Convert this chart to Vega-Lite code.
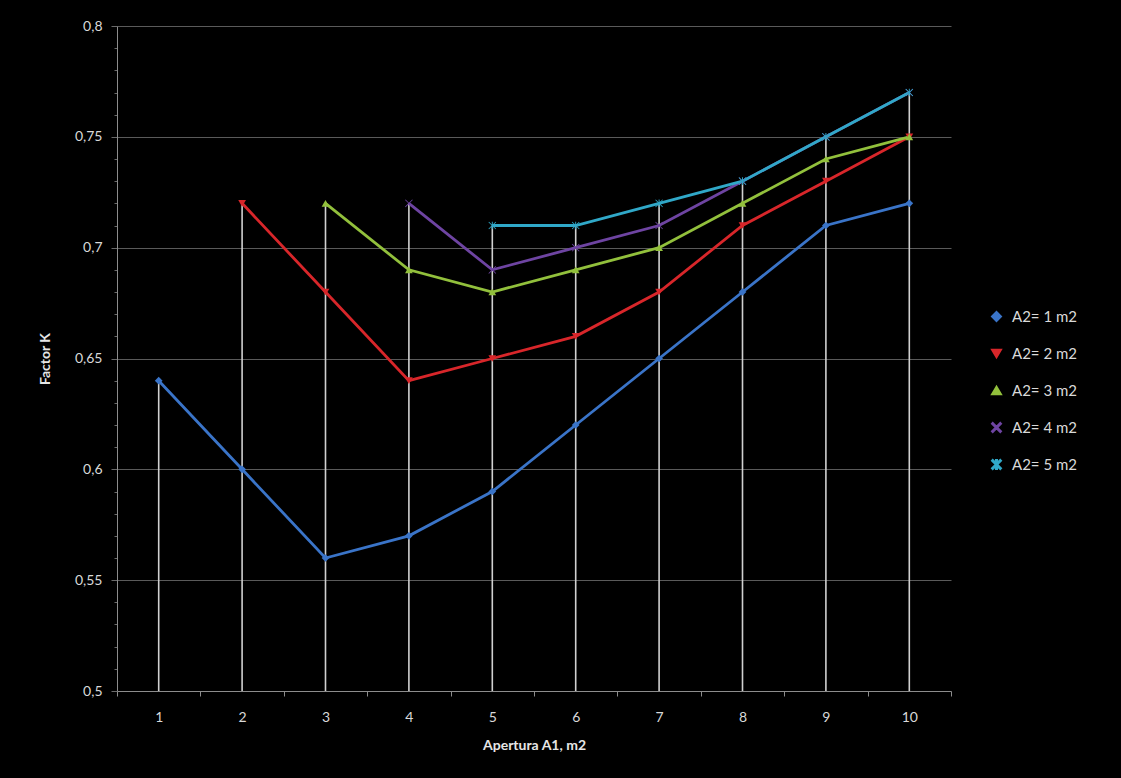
{
  "$schema": "https://vega.github.io/schema/vega-lite/v6.json",
  "width": 834,
  "height": 665,
  "autosize": {"type": "none"},
  "padding": {"left": 117, "top": 26, "right": 170, "bottom": 87},
  "background": "#000000",
  "config": {
    "view": {"stroke": null},
    "font": "Lato",
    "axis": {"labelFont": "Lato", "titleFont": "Lato"},
    "legend": {"labelFont": "Lato"}
  },
  "data": {
    "values": [
      {"x": 1, "s": "A2= 1 m2", "k": 0.64},
      {"x": 2, "s": "A2= 1 m2", "k": 0.60},
      {"x": 3, "s": "A2= 1 m2", "k": 0.56},
      {"x": 4, "s": "A2= 1 m2", "k": 0.57},
      {"x": 5, "s": "A2= 1 m2", "k": 0.59},
      {"x": 6, "s": "A2= 1 m2", "k": 0.62},
      {"x": 7, "s": "A2= 1 m2", "k": 0.65},
      {"x": 8, "s": "A2= 1 m2", "k": 0.68},
      {"x": 9, "s": "A2= 1 m2", "k": 0.71},
      {"x": 10, "s": "A2= 1 m2", "k": 0.72},
      {"x": 2, "s": "A2= 2 m2", "k": 0.72},
      {"x": 3, "s": "A2= 2 m2", "k": 0.68},
      {"x": 4, "s": "A2= 2 m2", "k": 0.64},
      {"x": 5, "s": "A2= 2 m2", "k": 0.65},
      {"x": 6, "s": "A2= 2 m2", "k": 0.66},
      {"x": 7, "s": "A2= 2 m2", "k": 0.68},
      {"x": 8, "s": "A2= 2 m2", "k": 0.71},
      {"x": 9, "s": "A2= 2 m2", "k": 0.73},
      {"x": 10, "s": "A2= 2 m2", "k": 0.75},
      {"x": 3, "s": "A2= 3 m2", "k": 0.72},
      {"x": 4, "s": "A2= 3 m2", "k": 0.69},
      {"x": 5, "s": "A2= 3 m2", "k": 0.68},
      {"x": 6, "s": "A2= 3 m2", "k": 0.69},
      {"x": 7, "s": "A2= 3 m2", "k": 0.70},
      {"x": 8, "s": "A2= 3 m2", "k": 0.72},
      {"x": 9, "s": "A2= 3 m2", "k": 0.74},
      {"x": 10, "s": "A2= 3 m2", "k": 0.75},
      {"x": 4, "s": "A2= 4 m2", "k": 0.72},
      {"x": 5, "s": "A2= 4 m2", "k": 0.69},
      {"x": 6, "s": "A2= 4 m2", "k": 0.70},
      {"x": 7, "s": "A2= 4 m2", "k": 0.71},
      {"x": 8, "s": "A2= 4 m2", "k": 0.73},
      {"x": 9, "s": "A2= 4 m2", "k": 0.75},
      {"x": 10, "s": "A2= 4 m2", "k": 0.77},
      {"x": 5, "s": "A2= 5 m2", "k": 0.71},
      {"x": 6, "s": "A2= 5 m2", "k": 0.71},
      {"x": 7, "s": "A2= 5 m2", "k": 0.72},
      {"x": 8, "s": "A2= 5 m2", "k": 0.73},
      {"x": 9, "s": "A2= 5 m2", "k": 0.75},
      {"x": 10, "s": "A2= 5 m2", "k": 0.77}
    ]
  },
  "encoding": {
    "x": {
      "field": "x",
      "type": "ordinal",
      "bandPosition": 0.5,
      "scale": {"type": "band", "paddingInner": 0, "paddingOuter": 0},
      "axis": {
        "title": "Apertura A1, m2",
        "labelAngle": 0,
        "tickBand": "extent",
        "grid": false,
        "domainColor": "#8c8c8c",
        "tickColor": "#8c8c8c",
        "tickSize": 5,
        "labelPadding": 14,
        "labelFontSize": 14,
        "labelColor": "#d9d9d9",
        "titleFontSize": 14,
        "titleFontWeight": "bold",
        "titleColor": "#e6e6e6",
        "titlePadding": 14
      }
    }
  },
  "layer": [
    {
      "mark": {"type": "rule", "color": "#d0d0d0", "strokeWidth": 1.6},
      "encoding": {
        "y": {
          "aggregate": "max",
          "field": "k",
          "type": "quantitative",
          "scale": {"domain": [0.5, 0.8], "nice": false, "zero": false},
          "axis": {
            "title": "Factor K",
            "tickCount": 60,
            "values": [0.5, 0.51, 0.52, 0.53, 0.54, 0.55, 0.56, 0.57, 0.58, 0.59, 0.6, 0.61, 0.62, 0.63, 0.64, 0.65, 0.66, 0.67, 0.68, 0.69, 0.7, 0.71, 0.72, 0.73, 0.74, 0.75, 0.76, 0.77, 0.78, 0.79, 0.8],
            "labelExpr": "abs(datum.value*20 - round(datum.value*20)) < 0.001 ? replace(format(datum.value, '~g'), '.', ',') : ''",
            "labelOverlap": false,
            "labelBound": false,
            "grid": true,
            "gridColor": {"condition": {"test": "abs(datum.value*20 - round(datum.value*20)) < 0.001 && datum.value > 0.501", "value": "#5a5a5a"}, "value": "rgba(0,0,0,0)"},
            "gridWidth": 1,
            "tickSize": {"condition": {"test": "abs(datum.value*20 - round(datum.value*20)) < 0.001", "value": 6}, "value": 3},
            "tickColor": "#6a6a6a",
            "domainColor": "#8c8c8c",
            "labelPadding": 9,
            "labelFontSize": 14,
            "labelColor": "#d9d9d9",
            "titleFontSize": 14,
            "titleFontWeight": "bold",
            "titleColor": "#e6e6e6",
            "titlePadding": 22
          }
        },
        "y2": {"datum": 0.5}
      }
    },
    {
      "mark": {"type": "line", "strokeWidth": 2.8, "point": {"filled": true, "size": 60, "opacity": 1}},
      "encoding": {
        "y": {
          "field": "k",
          "type": "quantitative",
          "axis": {
            "title": "Factor K",
            "tickCount": 60,
            "values": [0.5, 0.51, 0.52, 0.53, 0.54, 0.55, 0.56, 0.57, 0.58, 0.59, 0.6, 0.61, 0.62, 0.63, 0.64, 0.65, 0.66, 0.67, 0.68, 0.69, 0.7, 0.71, 0.72, 0.73, 0.74, 0.75, 0.76, 0.77, 0.78, 0.79, 0.8],
            "labelExpr": "abs(datum.value*20 - round(datum.value*20)) < 0.001 ? replace(format(datum.value, '~g'), '.', ',') : ''",
            "labelOverlap": false,
            "labelBound": false,
            "grid": true,
            "gridColor": {"condition": {"test": "abs(datum.value*20 - round(datum.value*20)) < 0.001 && datum.value > 0.501", "value": "#5a5a5a"}, "value": "rgba(0,0,0,0)"},
            "gridWidth": 1,
            "tickSize": {"condition": {"test": "abs(datum.value*20 - round(datum.value*20)) < 0.001", "value": 6}, "value": 3},
            "tickColor": "#6a6a6a",
            "domainColor": "#8c8c8c",
            "labelPadding": 9,
            "labelFontSize": 14,
            "labelColor": "#d9d9d9",
            "titleFontSize": 14,
            "titleFontWeight": "bold",
            "titleColor": "#e6e6e6",
            "titlePadding": 22
          }
        },
        "color": {
          "field": "s",
          "type": "nominal",
          "scale": {
            "domain": ["A2= 1 m2", "A2= 2 m2", "A2= 3 m2", "A2= 4 m2", "A2= 5 m2"],
            "range": ["#3a74c8", "#d8262a", "#92c03c", "#6e44a2", "#30a8c8"]
          },
          "legend": {
            "title": null,
            "orient": "none",
            "legendX": 872,
            "legendY": 283,
            "labelFontSize": 15,
            "labelColor": "#d9d9d9",
            "rowPadding": 20,
            "symbolSize": 80,
            "symbolStrokeWidth": 2,
            "labelOffset": 8
          }
        },
        "shape": {
          "field": "s",
          "type": "nominal",
          "scale": {
            "domain": ["A2= 1 m2", "A2= 2 m2", "A2= 3 m2", "A2= 4 m2", "A2= 5 m2"],
            "range": [
              "diamond",
              "triangle-down",
              "triangle-up",
              "M-1,-0.85L-0.85,-1L0,-0.15L0.85,-1L1,-0.85L0.15,0L1,0.85L0.85,1L0,0.15L-0.85,1L-1,0.85L-0.15,0Z",
              "M-1,-0.85L-0.85,-1L0,-0.15L0.85,-1L1,-0.85L0.15,0L1,0.85L0.85,1L0,0.15L-0.85,1L-1,0.85L-0.15,0ZM-0.12,-1L0.12,-1L0.12,1L-0.12,1Z"
            ]
          },
          "legend": null
        }
      }
    }
  ]
}
